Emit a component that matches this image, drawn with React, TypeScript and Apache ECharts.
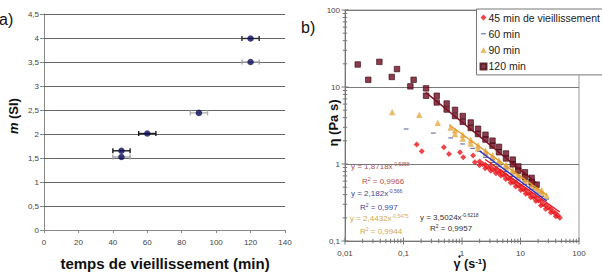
import React, { useEffect, useRef } from 'react';
import * as echarts from 'echarts';

const FONT = '"Liberation Sans", Arial, sans-serif';

// a) consistency index m versus ageing time (min), with +/- spread on time
const ageMinutes = [45, 45, 60, 90, 120, 120];
const consistencyM = [1.65, 1.52, 2.01, 2.44, 3.5, 3.99];
const ageSpread = [5, 5, 5, 5, 5, 5];
const spreadShade = ['#1a1a1a', '#a4a4a4', '#1a1a1a', '#b0b0b0', '#a4a4a4', '#2a2a2a'];
const mLevels = [0.5, 1, 1.5, 2, 2.5, 3, 3.5, 4, 4.5];

// b) viscosity (Pa s) versus shear rate (1/s) for each ageing time
const seriesNames = ['45 min de vieillissement', '60 min', '90 min', '120 min'];

const rate45 = [0.168, 0.205, 0.49, 0.6, 0.925, 1.05, 1.55, 1.66, 2.0, 2.0, 2.25, 2.5, 2.5, 2.8, 3.1, 3.1, 3.45, 3.8, 3.8, 4.2, 4.6, 4.6, 5.1, 5.6, 5.6, 6.2, 6.8, 6.8, 7.5, 8.3, 8.3, 9.2, 10.1, 10.1, 11.2, 12.3, 12.3, 13.6, 15, 15, 16.6, 18.3, 18.3, 20.2, 22.3, 22.3, 24.6, 27, 27, 30, 33, 33, 36.5, 40, 40, 43.5, 47];
const eta45 = [1.79, 1.46, 1.65, 1.35, 1.42, 1.22, 1.29, 1.05, 1.08, 0.96, 1.0, 0.98, 0.88, 0.9, 0.92, 0.82, 0.84, 0.86, 0.76, 0.78, 0.8, 0.71, 0.72, 0.72, 0.64, 0.65, 0.64, 0.57, 0.58, 0.57, 0.51, 0.52, 0.51, 0.46, 0.465, 0.46, 0.41, 0.415, 0.41, 0.37, 0.37, 0.37, 0.33, 0.335, 0.33, 0.29, 0.3, 0.29, 0.26, 0.27, 0.26, 0.235, 0.24, 0.23, 0.21, 0.215, 0.2];

const rate60 = [0.111, 0.324, 0.64, 1.02, 1.52, 2.0, 2.52, 2.52, 3.32, 3.32, 4.29, 4.29, 5.65, 5.65, 7.38, 7.38, 9.17, 9.17, 11.9, 11.9, 15.5, 15.5, 18.9, 18.9, 23, 23, 28];
const eta60 = [2.85, 2.52, 2.18, 1.82, 1.6, 1.46, 1.34, 1.22, 1.15, 1.05, 1.0, 0.92, 0.87, 0.8, 0.76, 0.69, 0.67, 0.62, 0.59, 0.54, 0.51, 0.47, 0.46, 0.42, 0.42, 0.38, 0.35];

const rate90 = [0.064, 0.186, 0.385, 0.64, 0.76, 0.76, 1.03, 1.03, 1.41, 1.41, 1.88, 1.88, 2.52, 2.52, 3.32, 3.32, 4.29, 4.29, 5.65, 5.65, 7.38, 7.38, 9.17, 9.17, 11.9, 11.9, 15.5, 15.5, 18.9, 18.9, 23, 23, 28];
const eta90 = [4.75, 4.36, 3.43, 2.98, 2.75, 2.45, 2.4, 2.15, 2.05, 1.85, 1.75, 1.6, 1.5, 1.38, 1.3, 1.2, 1.12, 1.04, 0.98, 0.9, 0.85, 0.78, 0.75, 0.7, 0.66, 0.6, 0.57, 0.52, 0.51, 0.47, 0.46, 0.42, 0.39];

const rate120 = [0.0165, 0.025, 0.0387, 0.063, 0.0774, 0.131, 0.149, 0.243, 0.243, 0.37, 0.37, 0.547, 0.547, 0.76, 0.76, 1.03, 1.03, 1.41, 1.41, 1.88, 1.88, 2.52, 2.52, 3.32, 3.32, 4.29, 4.29, 5.65, 5.65, 7.38, 7.38, 9.17, 9.17, 11.9, 11.9, 15.5, 15.5, 18.9];
const eta120 = [19.6, 12.4, 21.2, 13.5, 17.1, 10.2, 12.4, 9.6, 7.7, 7.7, 6.3, 6.1, 5.1, 5.05, 4.2, 4.2, 3.53, 3.46, 2.93, 2.87, 2.45, 2.4, 2.08, 2.01, 1.73, 1.67, 1.42, 1.37, 1.18, 1.14, 0.99, 0.93, 0.82, 0.78, 0.68, 0.66, 0.58, 0.54];

// power-law fits y = a x^b, in the order 45, 60, 90, 120 min
const fitCoef = [1.8718, 2.182, 2.4432, 3.5024];
const fitExp = [-0.5358, -0.566, -0.5475, -0.6218];
const fitR2 = [0.9966, 0.997, 0.9944, 0.9957];
const fitFrom = [2.5, 2.0, 0.6, 0.24];
const fitTo = [47, 28, 28, 19];

const markColors = ['#e8161c', '#1c2a7c', '#e3aa45', '#6e0d22'];
const fitColors = ['#e3191f', '#2b2fd0', '#e59a2c', '#7a1020'];
const eqColors = ['#b8504c', '#3c48a0', '#d4a850', '#3a3030'];

const comma = (v: number) => String(Number(v.toPrecision(6))).replace('.', ',');

// crossing tick positions on the log axes
const decadeTicks = (lo: number, hi: number) => {
  const out: number[] = [];
  for (let d = lo; d < hi; d *= 10) for (let k = 1; k <= 9; k++) out.push(Number((k * d).toPrecision(6)));
  out.push(hi);
  return out;
};

function buildOption() {
  const pts = (xs: number[], ys: number[]) => xs.map((x, i) => [x, ys[i]]);
  const datasets = [pts(rate45, eta45), pts(rate60, eta60), pts(rate90, eta90), pts(rate120, eta120)];
  const symbols: any[] = ['diamond', 'path://M0,0M10,10M1,4.2H9V5.8H1Z', 'triangle', 'rect'];
  const sizes: any[] = [6, [6, 6], 6.5, 5.5];

  const scatterB = datasets.map((d, i) => ({
    type: 'scatter',
    name: seriesNames[i],
    xAxisIndex: 1,
    yAxisIndex: 1,
    data: d,
    symbol: symbols[i],
    symbolSize: sizes[i],
    itemStyle: {
      color: markColors[i],
      borderColor: i === 3 ? '#3e0612' : undefined,
      borderWidth: i === 3 ? 0.8 : 0,
    },
    z: 2 + i * 0.1,
  }));

  const fitLines = fitCoef.map((a, i) => ({
    type: 'line',
    xAxisIndex: 1,
    yAxisIndex: 1,
    data: [
      [fitFrom[i], a * Math.pow(fitFrom[i], fitExp[i])],
      [fitTo[i], a * Math.pow(fitTo[i], fitExp[i])],
    ],
    showSymbol: false,
    symbol: 'none',
    lineStyle: { color: fitColors[i], width: 1.4 },
    z: 4,
    silent: true,
  }));

  const xTickData = decadeTicks(0.01, 100).map((v) => [v, 0.1]);
  const yTickData = decadeTicks(0.1, 100).map((v) => [0.01, v]);
  const isMajor = (v: number) => Math.abs(Math.log10(v) - Math.round(Math.log10(v))) < 1e-6;

  const tickSeries = (data: number[][], horizontal: boolean) => ({
    type: 'custom',
    xAxisIndex: 1,
    yAxisIndex: 1,
    clip: false,
    silent: true,
    z: 5,
    data,
    renderItem: (params: any, api: any) => {
      const v = horizontal ? api.value(1) : api.value(0);
      const p = api.coord([api.value(0), api.value(1)]);
      const len = isMajor(v) ? 3.5 : 2.2;
      const shape = horizontal
        ? { x1: p[0] - len, y1: p[1], x2: p[0] + len, y2: p[1] }
        : { x1: p[0], y1: p[1] - len, x2: p[0], y2: p[1] + len };
      return { type: 'line', shape, style: { stroke: '#777', lineWidth: 1 } };
    },
  });

  const errorBars = {
    type: 'custom',
    xAxisIndex: 0,
    yAxisIndex: 0,
    silent: true,
    z: 2,
    data: ageMinutes.map((t, i) => [t, consistencyM[i], ageSpread[i]]),
    renderItem: (params: any, api: any) => {
      const x = api.value(0);
      const y = api.value(1);
      const e = api.value(2);
      const a = api.coord([x - e, y]);
      const b = api.coord([x + e, y]);
      const stroke = spreadShade[params.dataIndex];
      const st = { stroke, lineWidth: 1.4 };
      return {
        type: 'group',
        children: [
          { type: 'line', shape: { x1: a[0], y1: a[1], x2: b[0], y2: b[1] }, style: st },
          { type: 'line', shape: { x1: a[0], y1: a[1] - 2.5, x2: a[0], y2: a[1] + 2.5 }, style: st },
          { type: 'line', shape: { x1: b[0], y1: b[1] - 2.5, x2: b[0], y2: b[1] + 2.5 }, style: st },
        ],
      };
    },
  };

  const eqPos = [
    { x: 351, y: 166, rx: 362, ry: 181 },
    { x: 351, y: 193, rx: 360, ry: 207 },
    { x: 350, y: 218, rx: 360, ry: 231 },
    { x: 420, y: 217, rx: 430, ry: 228 },
  ];

  const eqGraphics: any[] = [];
  fitCoef.forEach((a, i) => {
    const col = eqColors[i];
    const rich = {
      b: { fontSize: 8, fontFamily: FONT, fill: col, color: col, lineHeight: 10 },
      s: { fontSize: 5, fontFamily: FONT, fill: col, color: col, lineHeight: 5, verticalAlign: 'top' },
    };
    eqGraphics.push({
      type: 'text',
      x: eqPos[i].x,
      y: eqPos[i].y,
      silent: true,
      style: { text: `{b|y = ${comma(a)}x}{s|${comma(fitExp[i])}}`, rich, verticalAlign: 'middle', align: 'left' },
    });
    eqGraphics.push({
      type: 'text',
      x: eqPos[i].rx,
      y: eqPos[i].ry,
      silent: true,
      style: { text: `{b|R}{s|2}{b| = ${comma(fitR2[i])}}`, rich, verticalAlign: 'middle', align: 'left' },
    });
  });

  const axisLabelStyle = { fontSize: 8, color: '#444', fontFamily: FONT };

  return {
    animation: false,
    backgroundColor: '#fff',
    grid: [
      { left: 44, top: 14, width: 241, height: 216 },
      { left: 345, top: 10, width: 234, height: 231, show: true, borderColor: '#999', borderWidth: 1 },
    ],
    xAxis: [
      {
        type: 'value',
        gridIndex: 0,
        min: 0,
        max: 140,
        interval: 20,
        axisLine: { lineStyle: { color: '#888' } },
        axisTick: { show: true, length: 3, lineStyle: { color: '#888' } },
        splitLine: { show: false },
        axisLabel: { ...axisLabelStyle, margin: 8 },
      },
      {
        type: 'log',
        logBase: 10,
        gridIndex: 1,
        min: 0.01,
        max: 100,
        axisLine: { lineStyle: { color: '#777' } },
        axisTick: { show: false },
        splitLine: { show: false },
        axisLabel: { ...axisLabelStyle, margin: 8, formatter: (v: number) => comma(v) },
      },
    ],
    yAxis: [
      {
        type: 'value',
        gridIndex: 0,
        min: 0,
        max: 4.5,
        interval: 0.5,
        axisLine: { show: true, lineStyle: { color: '#888' } },
        axisTick: { show: true, length: 4, lineStyle: { color: '#888' } },
        splitLine: { show: false },
        axisLabel: { ...axisLabelStyle, margin: 5, formatter: (v: number) => comma(v) },
      },
      {
        type: 'log',
        logBase: 10,
        gridIndex: 1,
        min: 0.1,
        max: 100,
        axisLine: { show: true, lineStyle: { color: '#777' } },
        axisTick: { show: false },
        splitLine: { show: true, lineStyle: { color: '#7a7a7a', width: 1 } },
        axisLabel: { ...axisLabelStyle, margin: 5, formatter: (v: number) => comma(v) },
      },
    ],
    legend: {
      orient: 'vertical',
      left: 476.5,
      top: 9,
      padding: [3, 40, 3, 3],
      itemGap: 5.3,
      itemWidth: 6,
      itemHeight: 6,
      backgroundColor: '#fff',
      borderColor: '#777',
      borderWidth: 1,
      borderRadius: 0,
      selectedMode: false,
      textStyle: { fontSize: 10.5, color: '#222', fontFamily: FONT, padding: [0, 0, 0, -3] },
      data: seriesNames.map((n) => ({ name: n })),
    },
    graphic: [
      { type: 'text', x: -1, y: 19, silent: true, style: { text: 'a)', fontSize: 16, fontFamily: FONT, fill: '#111', verticalAlign: 'middle' } },
      { type: 'text', x: 301, y: 27, silent: true, style: { text: 'b)', fontSize: 16, fontFamily: FONT, fill: '#111', verticalAlign: 'middle' } },
      {
        type: 'text',
        x: 13,
        y: 116,
        rotation: Math.PI / 2,
        silent: true,
        style: {
          text: '{i|m} {b|(SI)}',
          align: 'center',
          verticalAlign: 'middle',
          rich: {
            i: { fontSize: 13, fontWeight: 'bold', fontStyle: 'italic', fontFamily: FONT, fill: '#111', color: '#111' },
            b: { fontSize: 13, fontWeight: 'bold', fontFamily: FONT, fill: '#111', color: '#111' },
          },
        },
      },
      {
        type: 'text',
        x: 165,
        y: 263,
        silent: true,
        style: { text: 'temps de vieillissement (min)', fontSize: 15, fontWeight: 'bold', fontFamily: FONT, fill: '#111', align: 'center', verticalAlign: 'middle' },
      },
      {
        type: 'text',
        x: 333,
        y: 123,
        rotation: Math.PI / 2,
        silent: true,
        style: { text: 'η (Pa s)', fontSize: 13, fontWeight: 'bold', fontFamily: FONT, fill: '#111', align: 'center', verticalAlign: 'middle' },
      },
      {
        type: 'text',
        x: 470,
        y: 264,
        silent: true,
        style: {
          text: '{g|γ (s}{s|-1}{g|)}',
          align: 'center',
          verticalAlign: 'middle',
          rich: {
            g: { fontSize: 12.5, fontWeight: 'bold', fontFamily: FONT, fill: '#111', color: '#111', lineHeight: 14 },
            s: { fontSize: 8, fontWeight: 'bold', fontFamily: FONT, fill: '#111', color: '#111', lineHeight: 8, verticalAlign: 'top' },
          },
        },
      },
      { type: 'circle', silent: true, shape: { cx: 459.5, cy: 256.5, r: 1.2 }, style: { fill: '#111' } },
      ...eqGraphics,
    ],
    series: [
      errorBars,
      {
        type: 'scatter',
        xAxisIndex: 0,
        yAxisIndex: 0,
        data: ageMinutes.map((t, i) => [t, consistencyM[i]]),
        symbol: 'circle',
        symbolSize: 6.5,
        itemStyle: { color: '#0c0c5c' },
        z: 3,
        markLine: {
          silent: true,
          symbol: 'none',
          label: { show: false },
          lineStyle: { color: '#666', width: 1, type: 'solid', opacity: 1 },
          z: 1,
          data: mLevels.map((v) => ({ yAxis: v })),
        },
      },
      ...scatterB,
      ...fitLines,
      tickSeries(xTickData, false),
      tickSeries(yTickData, true),
    ],
  };
}

export default function App() {
  const ref = useRef<HTMLDivElement>(null);
  useEffect(() => {
    if (!ref.current) return;
    const chart = echarts.init(ref.current, null, { renderer: 'svg' });
    chart.setOption(buildOption() as any);
    return () => chart.dispose();
  }, []);
  return (
    <div
      ref={ref}
      style={{ position: 'fixed', left: 0, top: 0, width: 602, height: 275, background: '#fff' }}
    />
  );
}
